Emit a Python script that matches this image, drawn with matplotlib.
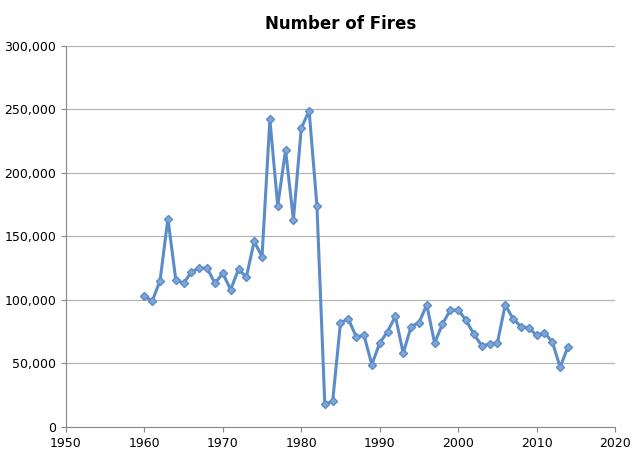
import matplotlib
matplotlib.use("Agg")
import matplotlib.pyplot as plt
from matplotlib.ticker import FuncFormatter

years = list(range(1960, 2015))
fires = [103000, 99000, 115000, 164000, 116000, 113000, 122000, 125000, 125000, 113000,
         121000, 108000, 124000, 118000, 146000, 134000, 242000, 174000, 218000, 163000,
         235000, 249000, 174000, 18000, 20000, 82000, 85000, 71000, 72000, 49000,
         66000, 75000, 87000, 58000, 79000, 82000, 96000, 66000, 81000, 92000,
         92000, 84000, 73000, 64000, 65000, 66000, 96000, 85000, 79000, 78000,
         72000, 74000, 67000, 47000, 63000]

fig = plt.figure(figsize=(6.4, 4.58), dpi=100)
ax = fig.add_axes([0.103, 0.068, 0.858, 0.832])
ax.plot(years, fires, color="#5b8cc8", linewidth=2.2, marker="D", markersize=4.5,
        markerfacecolor="#7ea6d8", markeredgecolor="#5b8cc8")
ax.set_xlim(1950, 2020)
ax.set_ylim(0, 300000)
ax.set_xticks(range(1950, 2021, 10))
ax.set_yticks(range(0, 300001, 50000))
ax.yaxis.set_major_formatter(FuncFormatter(lambda v, p: f"{int(v):,}"))
ax.grid(axis="y", color="#b0b0b0", linewidth=0.8)
ax.set_axisbelow(True)
for s in ["top", "right"]:
    ax.spines[s].set_visible(False)
for s in ["left", "bottom"]:
    ax.spines[s].set_color("#888888")
ax.tick_params(labelsize=9, color="#888888")
ax.set_title("Number of Fires", fontsize=12, fontweight="bold", pad=12)
fig.savefig("out.png", dpi=100)
